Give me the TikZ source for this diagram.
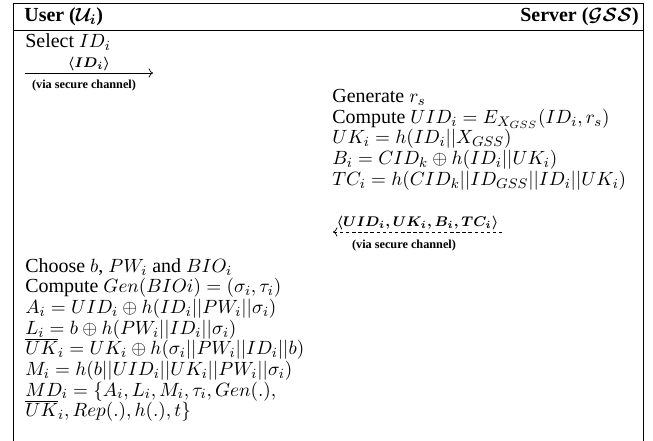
\documentclass[tikz,border=0pt]{standalone}
\usepackage[no-math]{fontspec}
\setmainfont{Liberation Serif}
\usetikzlibrary{positioning,arrows.meta}
\newcommand{\tightlines}{\lineskiplimit=-20pt\relax\lineskip=0pt\relax}

\begin{document}
\begin{tikzpicture}[x=0.5714pt,y=-0.5714pt]
\tikzset{txt/.style={inner sep=0pt,font=\fontsize{11.4}{11.8}\selectfont\tightlines,align=left}}
\tikzset{hdr/.style={txt,font=\fontsize{11.4}{11.8}\selectfont\bfseries\boldmath}}
\tikzset{msg/.style={inner sep=1pt,font=\footnotesize\boldmath}}
\tikzset{chan/.style={inner sep=1pt,font=\scriptsize\bfseries}}
\useasboundingbox (0,0) rectangle (653,441);
% frame of the table
\draw (13,441) -- (13,3) -- (643,3) -- (643,441);
\draw (13,30) -- (643,30);
% header
\node[hdr,anchor=base west] (user) at (24,22) {User ($\mathcal{U}_i$)};
\node[hdr,anchor=base east] (server) at (639,22) {Server ($\mathcal{GSS}$)};

% user sends identity
\node[txt,anchor=base west] (sel) at (25,48) {Select $ID_i$};
\coordinate (a1s) at (25,73);
\coordinate (a1e) at (153,73);
\draw[->] (a1s) -- node[msg,above] (m1) {$\langle ID_i\rangle$} (a1e);
\node[chan] (v1) at (84,86) {(via secure channel)};

% server side
\node[txt,anchor=north west] (gen) at (332,89) {Generate $r_s$\\
Compute $UID_i = E_{X_{GSS}}(ID_i, r_s)$\\
$UK_i = h(ID_i||X_{GSS})$\\
$B_i = CID_k \oplus h(ID_i||UK_i)$\\
$TC_i = h(CID_k||ID_{GSS}||ID_i||UK_i)$};
\coordinate (a2e) at (333,232);
\coordinate (a2s) at (502,232);
\draw[<-,dash pattern=on 2pt off 1.5pt] (a2e) -- node[msg,above] (m2) {$\langle UID_i,UK_i,B_i,TC_i\rangle$} (a2s);
\node[chan] (v2) at (404,246) {(via secure channel)};

% user side
\node[txt,anchor=north west] (cho) at (25,258) {Choose $b$, $PW_i$ and $BIO_i$\\
Compute $Gen(BIOi) = (\sigma_i, \tau_i)$\\
$A_i = UID_i \oplus h(ID_i||PW_i||\sigma_i)$\\
$L_i = b \oplus h(PW_i||ID_i||\sigma_i)$\\
$\overline{UK}_i = UK_i \oplus h(\sigma_i||PW_i||ID_i||b)$\\
$M_i = h(b||UID_i||UK_i||PW_i||\sigma_i)$\\
$MD_i = \{A_i, L_i, M_i, \tau_i, Gen(.),$\\
$\overline{UK}_i, Rep(.), h(.), t\}$};
\end{tikzpicture}
\end{document}
